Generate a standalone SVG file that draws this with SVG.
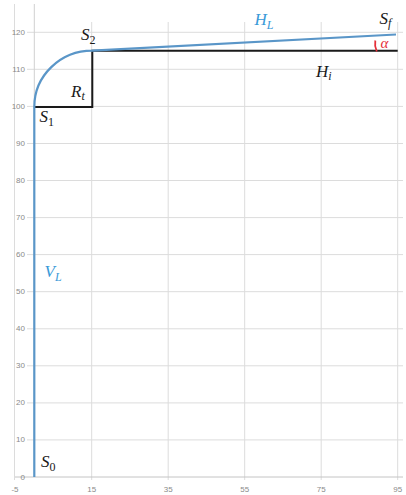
<svg xmlns="http://www.w3.org/2000/svg" width="406" height="495" viewBox="0 0 406 495">
<style>
.g{stroke:#dcdcdc;stroke-width:1;fill:none}
.ax{font-family:"Liberation Sans",Arial,sans-serif;font-size:8px;fill:#8a8a8a}
.m{font-family:"Liberation Serif","Times New Roman",serif;font-style:italic;font-size:17px;fill:#1a1a1a}
.b{fill:#3a9ad8}
.r{fill:#e5303a}
.sub{font-size:12px}
.up{font-style:normal}
</style>
<rect width="406" height="495" fill="#ffffff"/>
<g id="grid">
<path class="g" d="M27,32.3H403M27,69.3H403M27,106.4H403M27,143.5H403M27,180.5H403M27,217.6H403M27,254.6H403M27,291.7H403M27,328.8H403M27,365.8H403M27,402.9H403M27,439.9H403"/>
<path class="g" d="M14.5,4V480M91.7,22V480M168.2,22V480M244.7,22V480M321.2,22V480M397.7,22V480"/>
<path d="M34.3,4V477" stroke="#d0d0d0" stroke-width="1"/>
<path d="M15,477H403" stroke="#c4c4c4" stroke-width="1"/>
</g>
<g id="y-labels" class="ax" text-anchor="end">
<text x="25" y="35">120</text><text x="25" y="72">110</text><text x="25" y="109">100</text>
<text x="25" y="146">90</text><text x="25" y="183">80</text><text x="25" y="220">70</text>
<text x="25" y="257">60</text><text x="25" y="294">50</text><text x="25" y="331">40</text>
<text x="25" y="368">30</text><text x="25" y="405">20</text><text x="25" y="442">10</text>
<text x="25" y="480">0</text>
</g>
<g id="x-labels" class="ax" text-anchor="middle">
<text x="15" y="492">-5</text><text x="91.7" y="492">15</text><text x="168.2" y="492">35</text>
<text x="244.7" y="492">55</text><text x="321.2" y="492">75</text><text x="397.7" y="492">95</text>
</g>
<g id="connectors" fill="none">
<path id="Rt-line" d="M34.3,106.9H92.3V50.7H397.7" stroke="#1a1a1a" stroke-width="2"/>
<path id="well" d="M34.3,477V106.9A58,56.2 0 0 1 92.3,50.7L396,34.5" stroke="#5a96c8" stroke-width="2.2"/>
<path id="alpha-arc" d="M375.3,40.5Q374.3,46 376.8,51.5" stroke="#e5303a" stroke-width="1.8"/>
</g>
<g id="S0"><text class="m" x="41" y="467">S<tspan class="sub up" dy="4">0</tspan></text></g>
<g id="VL"><text class="m b" x="44.5" y="276.5">V<tspan class="sub" dy="4">L</tspan></text></g>
<g id="S1"><text class="m" x="39.5" y="122">S<tspan class="sub up" dy="4">1</tspan></text></g>
<g id="Rt"><text class="m" x="71" y="97">R<tspan class="sub" dy="3">t</tspan></text></g>
<g id="S2"><text class="m" x="81" y="40">S<tspan class="sub up" dy="4">2</tspan></text></g>
<g id="HL"><text class="m b" x="254.5" y="25">H<tspan class="sub" dy="4">L</tspan></text></g>
<g id="Hi"><text class="m" x="316" y="77">H<tspan class="sub" dy="3">i</tspan></text></g>
<g id="Sf"><text class="m" x="379.5" y="23.5">S<tspan class="sub" dy="3">f</tspan></text></g>
<g id="alpha"><text class="m r" x="380.5" y="48" style="font-size:15px">α</text></g>
</svg>
